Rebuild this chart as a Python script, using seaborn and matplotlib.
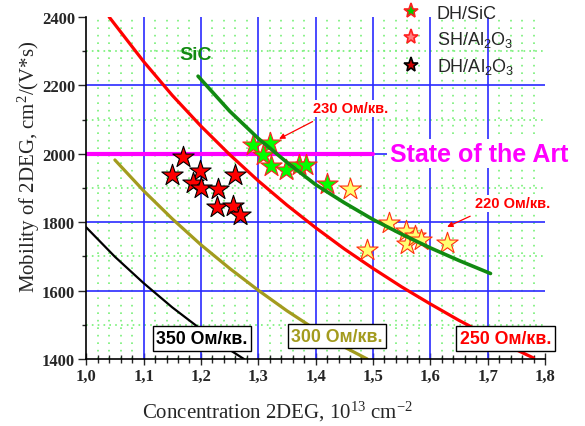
import pandas as pd
import matplotlib
matplotlib.use('Agg')
import matplotlib.pyplot as plt
from matplotlib.lines import Line2D
from matplotlib.ticker import MultipleLocator, FixedLocator, FixedFormatter
import seaborn as sns

# measured points (concentration in 1e13 cm^-2, mobility in cm2/Vs)
dh_sic_n = [1.291, 1.320, 1.309, 1.323, 1.349, 1.371, 1.383, 1.419]
dh_sic_mu = [2026, 2031, 1997, 1963, 1953, 1968, 1968, 1912]

sh_al_n = [1.460, 1.490, 1.528, 1.557, 1.560, 1.574, 1.583, 1.629]
sh_al_mu = [1897, 1720, 1798, 1774, 1735, 1759, 1749, 1739]

dh_al_n = [1.169, 1.149, 1.198, 1.187, 1.200, 1.230, 1.259, 1.228, 1.256, 1.268]
dh_al_mu = [1992, 1939, 1950, 1915, 1900, 1897, 1939, 1844, 1847, 1822]

# constant sheet resistance curves
r250_n = [1.04, 1.10, 1.15, 1.20, 1.25, 1.30, 1.35, 1.40, 1.45, 1.50, 1.55, 1.60, 1.65, 1.70, 1.75, 1.78]
r250_mu = [2400, 2270, 2171, 2081, 1998, 1921, 1850, 1784, 1722, 1665, 1611, 1561, 1513, 1469, 1427, 1403]

r300_n = [1.05, 1.10, 1.15, 1.20, 1.25, 1.30, 1.35, 1.40, 1.45, 1.49]
r300_mu = [1982, 1892, 1810, 1734, 1665, 1601, 1541, 1486, 1435, 1400]

r350_n = [1.00, 1.05, 1.10, 1.15, 1.20, 1.25, 1.275]
r350_mu = [1785, 1699, 1622, 1551, 1487, 1427, 1400]

sic_n = [1.195, 1.25, 1.30, 1.35, 1.40, 1.45, 1.50, 1.55, 1.60, 1.65, 1.705]
sic_mu = [2227, 2125, 2045, 1975, 1910, 1857, 1808, 1765, 1725, 1688, 1650]

state_n = [1.0, 1.5]
state_mu = [2000, 2000]

xticks = [1.0, 1.1, 1.2, 1.3, 1.4, 1.5, 1.6, 1.7, 1.8]
xtick_labels = ['1,0', '1,1', '1,2', '1,3', '1,4', '1,5', '1,6', '1,7', '1,8']
yticks = [1400, 1600, 1800, 2000, 2200, 2400]

sns.set_style('white')
plt.rcParams['font.family'] = ['Liberation Serif', 'DejaVu Serif']
plt.rcParams['mathtext.default'] = 'regular'

fig = plt.figure(figsize=(5.85, 4.27), dpi=100)
ax = fig.add_axes([0.1474, 0.1569, 0.9316 - 0.1474, 0.9578 - 0.1569])
ax.set_xlim(1.0, 1.8)
ax.set_ylim(1400, 2400)

# grid drawn by hand so that the frame edges stay clean
for v in xticks[1:-1]:
    ax.axvline(v, color='#2a2aff', lw=1.2, zorder=1)
for v in yticks[1:-1]:
    ax.axhline(v, color='#2a2aff', lw=1.2, zorder=1)
for i in range(1, 40):
    v = 1.0 + i * 0.02
    if i % 5:
        ax.axvline(v, color='#77f077', lw=1.2, ls=(0, (1, 3.5)), zorder=0.5)
for v in [1500, 1700, 1900, 2100, 2300]:
    ax.axhline(v, color='#77f077', lw=1.2, ls=(0, (1, 2.5)), zorder=0.5)

line_kw = dict(sort=False, estimator=None, ax=ax, legend=False)
sns.lineplot(x=state_n, y=state_mu, color='#ff00ff', lw=3, zorder=2, **line_kw)
sns.lineplot(x=r350_n, y=r350_mu, color='black', lw=1.6, zorder=2, **line_kw)
sns.lineplot(x=r300_n, y=r300_mu, color='#a39b1e', lw=2.3, zorder=2, **line_kw)
sns.lineplot(x=r250_n, y=r250_mu, color='#ff0000', lw=2.3, zorder=2, **line_kw)

star_kw = dict(marker='*', s=260, ax=ax, legend=False)
sns.scatterplot(x=dh_al_n, y=dh_al_mu, color='#ff0000', edgecolor='black', linewidth=0.8, zorder=3, **star_kw)
sns.scatterplot(x=dh_sic_n, y=dh_sic_mu, color='#00ff00', edgecolor='#ff2020', linewidth=0.8, zorder=3, **star_kw)
sns.scatterplot(x=sh_al_n, y=sh_al_mu, color='#ffff70', edgecolor='#ff3010', linewidth=0.8, zorder=3, **star_kw)

sns.lineplot(x=sic_n, y=sic_mu, color='#118a11', lw=2.6, zorder=4, **line_kw)

# axes and ticks
sns.despine(ax=ax)
for s in ['left', 'bottom']:
    ax.spines[s].set_color('black')
    ax.spines[s].set_linewidth(1.2)
    ax.spines[s].set_zorder(5)
ax.xaxis.set_major_locator(FixedLocator(xticks))
ax.xaxis.set_major_formatter(FixedFormatter(xtick_labels))
ax.xaxis.set_minor_locator(MultipleLocator(0.02))
ax.yaxis.set_major_locator(FixedLocator(yticks))
ax.yaxis.set_minor_locator(MultipleLocator(100))
ax.tick_params(axis='x', which='major', direction='inout', length=9, width=1, labelsize=12, pad=2)
ax.tick_params(axis='x', which='minor', direction='inout', length=6, width=1)
ax.tick_params(axis='y', which='major', direction='out', length=6, width=1, labelsize=12, pad=2)
ax.tick_params(axis='y', which='minor', direction='out', length=3, width=1)
ax.tick_params(bottom=True, left=True, which='both')
for lab in ax.get_xticklabels() + ax.get_yticklabels():
    lab.set_fontweight('bold')

ax.set_xlabel('Concentration 2DEG, 10$^{13}$ cm$^{-2}$', fontsize=15)
ax.set_ylabel('Mobility of 2DEG, cm$^{2}$/(V*s)', fontsize=15)
ax.xaxis.set_label_coords(0.418, -0.117)
ax.yaxis.set_label_coords(-0.097, 0.564)

# annotations
sans = 'Liberation Sans'
ax.text(1.19, 2289, 'SiC', color='#118a11', fontsize=14, fontweight='bold',
        family=sans, ha='center', va='center', zorder=6)
ax.text(1.529, 2000, 'State of the Art', color='#ff00ff', fontsize=18, fontweight='bold',
        family=sans, ha='left', va='center', zorder=6,
        bbox=dict(boxstyle='square,pad=0.1', fc='white', ec='none'))
ax.text(1.461, 2133, '230 Ом/кв.', color='#ff0000', fontsize=10.5, fontweight='bold',
        family=sans, ha='center', va='center', zorder=6,
        bbox=dict(boxstyle='square,pad=0.1', fc='white', ec='none'))
ax.annotate('', xy=(1.332, 2040), xytext=(1.399, 2098),
            arrowprops=dict(arrowstyle='-|>', color='#ff0000', lw=0.9, mutation_scale=8), zorder=6)
ax.text(1.744, 1856, '220 Ом/кв.', color='#ff0000', fontsize=10.5, fontweight='bold',
        family=sans, ha='center', va='center', zorder=6,
        bbox=dict(boxstyle='square,pad=0.1', fc='white', ec='none'))
ax.annotate('', xy=(1.625, 1783), xytext=(1.674, 1821),
            arrowprops=dict(arrowstyle='-|>', color='#ff0000', lw=0.9, mutation_scale=8), zorder=6)

box = dict(boxstyle='square,pad=0.2', fc='white', ec='black', lw=1)
ax.text(1.2017, 1460, '350 Ом/кв.', color='black', fontsize=12.8, fontweight='bold',
        family=sans, ha='center', va='center', bbox=box, zorder=6)
ax.text(1.437, 1466, '300 Ом/кв.', color='#a39b1e', fontsize=12.8, fontweight='bold',
        family=sans, ha='center', va='center', bbox=box, zorder=6)
ax.text(1.731, 1460, '250 Ом/кв.', color='#ff0000', fontsize=12.8, fontweight='bold',
        family=sans, ha='center', va='center', bbox=box, zorder=6)

handles = [
    Line2D([], [], ls='', marker='*', ms=11, mfc='#00cc00', mec='#ff2020', mew=1.2),
    Line2D([], [], ls='', marker='*', ms=11, mfc='#ff8080', mec='#ff2020', mew=1.2),
    Line2D([], [], ls='', marker='*', ms=11, mfc='#cc0000', mec='black', mew=1.2),
]
labels = ['DH/SiC', 'SH/Al$_2$O$_3$', 'DH/Al$_2$O$_3$']
fig.legend(handles, labels, loc='upper left', bbox_to_anchor=(0.657, 1.025),
           frameon=False, prop=dict(family=sans, size=13), handletextpad=0.8,
           labelspacing=0.4, handlelength=1.2)

fig.savefig('out.png', dpi=100)
